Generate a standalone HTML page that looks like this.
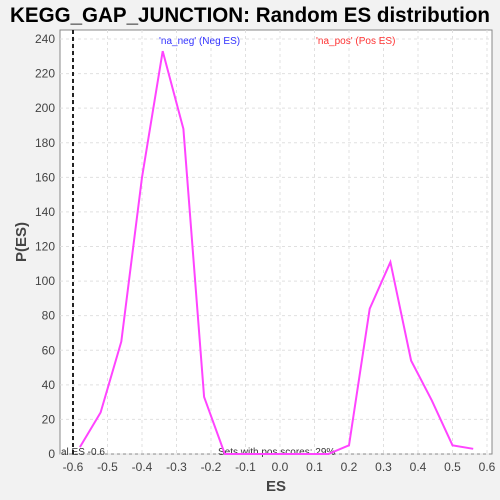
<!DOCTYPE html>
<html><head><meta charset="utf-8"><style>
body{margin:0;background:#f2f2f2;font-family:"Liberation Sans",sans-serif}
svg{display:block}
</style></head><body>
<svg width="500" height="500" id="c">
<rect x="0" y="0" width="500" height="500" fill="#f2f2f2"/>
<text x="10" y="22" textLength="480" lengthAdjust="spacingAndGlyphs" font-size="21" font-weight="bold" fill="#000">KEGG_GAP_JUNCTION: Random ES distribution</text>
<rect x="60" y="30" width="432" height="424" fill="#fff" stroke="#888"/>
<g id="grid"></g><g id="ticks"></g>
<text x="276" y="491" text-anchor="middle" font-size="15" font-weight="bold" fill="#444">ES</text>
<text transform="translate(26,242) rotate(-90)" text-anchor="middle" font-size="15" font-weight="bold" fill="#444">P(ES)</text>
<text x="159" y="44" font-size="10" fill="#3333ff">'na_neg' (Neg ES)</text>
<text x="316" y="44" font-size="10" fill="#ff3333">'na_pos' (Pos ES)</text>
<text x="61" y="455" font-size="10" fill="#333">al ES -0.6</text>
<text x="218" y="455" font-size="10" fill="#333">Sets with pos scores: 29%</text>
<g id="series"></g>
</svg>
<script>
const xs=[-0.58,-0.52,-0.46,-0.4,-0.34,-0.28,-0.22,-0.16,-0.1,-0.04,0.02,0.08,0.14,0.2,0.26,0.32,0.38,0.44,0.5,0.56];
const ys=[4,24,65,160,233,188,33,0,0,0,0,0,0,5,84,111,54,31,5,3];
const xTicks=[-0.6,-0.5,-0.4,-0.3,-0.2,-0.1,0,0.1,0.2,0.3,0.4,0.5,0.6];
const yTicks=[0,20,40,60,80,100,120,140,160,180,200,220,240];
const actualES=-0.6;
const X=v=>280+v*345, Y=v=>454-v*415/240;
const ns="http://www.w3.org/2000/svg";
const g=document.getElementById('grid'),t=document.getElementById('ticks'),s=document.getElementById('series');
function mk(p,tag,a){const e=document.createElementNS(ns,tag);for(const k in a)e.setAttribute(k,a[k]);p.appendChild(e);return e;}
xTicks.forEach(v=>{
 const l=mk(g,'line',{x1:X(v),x2:X(v),y1:30,y2:454,stroke:'#e0e0e0','stroke-dasharray':'3,3'});
 
 
 const tx=mk(t,'text',{x:X(v),y:471,'text-anchor':'middle','font-size':12,fill:'#444'});
 tx.textContent=(v===0?'0.0':v.toFixed(1));
 
 
});
yTicks.forEach(v=>{
 const l=mk(g,'line',{x1:60,x2:492,y1:Y(v),y2:Y(v),stroke:'#e0e0e0','stroke-dasharray':'3,3'});
 
 
 const tx=mk(t,'text',{x:55,y:Y(v)+4,'text-anchor':'end','font-size':12,fill:'#444'});
 tx.textContent=v;
 
 
});
const vl=mk(s,'line',{x1:X(actualES),x2:X(actualES),y1:30,y2:454,stroke:'#222','stroke-width':2,'stroke-dasharray':'4,3'});


const pl=mk(s,'polyline',{points:xs.map((x,i)=>X(x)+','+Y(ys[i])).join(' '),fill:'none',stroke:'#ff44ff','stroke-width':2});


</script>
</body></html>
